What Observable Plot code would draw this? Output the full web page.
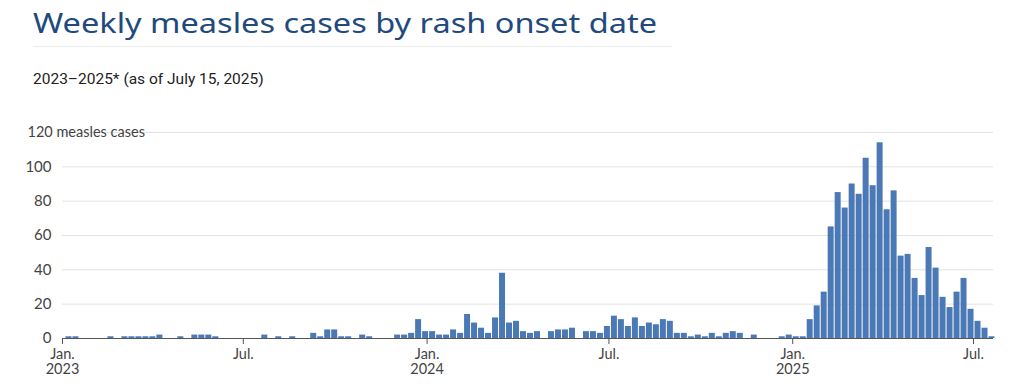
<!DOCTYPE html>
<html><head><meta charset="utf-8">
<script src="https://cdn.jsdelivr.net/npm/d3@7"></script>
<script src="https://cdn.jsdelivr.net/npm/@observablehq/plot@0.6"></script>
<style>
html,body{margin:0;padding:0;background:#fff;}
#wrap{position:relative;width:1024px;height:389px;overflow:hidden;}
#title{position:absolute;left:33px;top:9px;font-family:"Noto Sans",sans-serif;font-size:27px;line-height:27px;color:#22497d;white-space:nowrap;transform-origin:0 0;}
#rule{position:absolute;left:33px;top:46px;width:639px;height:1px;background:#ececec;}
#subtitle{position:absolute;left:33px;top:72px;font-family:Roboto,sans-serif;font-size:15.5px;line-height:15px;color:#222;white-space:nowrap;}
#chart{position:absolute;left:0;top:100px;}
</style></head><body>
<div id="wrap">
  <div id="title">Weekly measles cases by rash onset date</div>
  <div id="rule"></div>
  <div id="subtitle">2023–2025* (as of July 15, 2025)</div>
  <div id="chart"></div>
</div>
<script>
// Weekly measles cases (weeks starting 2023-01-04, 7-day steps)
const firstWeekStart = "2023-01-04";
const cases2023 = [1,1,0,0,0,0,1,0,1,1, 1,1,1,2,0,0,1,0,2,2, 2,1,0,0,0,0,0,0,2,0, 1,0,1,0,0,3,1,5,5,1, 1,0,2,1,0,0,0,2,2,3, 11,4];
const cases2024 = [4,2,2,5,3,14,9,6,3,12, 38,9,10,4,3,4,0,4,5,5, 6,0,4,4,3,7,13,11,7,12, 7,9,8,11,10,3,3,1,2,1, 3,1,3,4,3,0,2,0,0,0, 1,2];
const cases2025 = [1,1,11,19,27,65,85,76,90,84,105,89,114,75,86,48,49,35,25,53,41,24,18,27,35,17,10,6,1];
const xTickDates = ["2023-01-01","2023-07-01","2024-01-01","2024-07-01","2025-01-01","2025-07-01"];
const yearTickDates = ["2023-01-01","2024-01-01","2025-01-01"];
const yTicks = [0,20,40,60,80,100];
const yGrid = [20,40,60,80,100,120];
const yTopLabel = 120;
const yUnit = "measles cases";

const allCases = [...cases2023, ...cases2024, ...cases2025];
const start = new Date(firstWeekStart + "T00:00:00Z");
const weeks = allCases.map((c, i) => ({
  start: d3.utcDay.offset(start, 7 * i),
  end: d3.utcDay.offset(start, 7 * i + 7),
  cases: c
})).filter(d => d.cases > 0);
const toDate = s => new Date(s + "T00:00:00Z");
const xTicks = xTickDates.map(toDate);
const yearTicks = yearTickDates.map(toDate);

const chart = Plot.plot({
  width: 1024, height: 289,
  marginLeft: 62, marginRight: 31, marginTop: 32, marginBottom: 51,
  style: {fontFamily: "Lato, sans-serif", fontSize: "14.5px", color: "#444", background: "transparent"},
  x: {type: "utc", domain: [toDate("2023-01-01"), toDate("2025-07-21")], label: null},
  y: {domain: [0, 120], label: null},
  marks: [
    Plot.gridY(yGrid, {stroke: "#e2e2e2", strokeOpacity: 1}),
    Plot.rectY(weeks, {x1: "start", x2: "end", y: "cases", fill: "#4a79b5", insetLeft: 0.5, insetRight: 0.5}),
    Plot.ruleY([0], {stroke: "#555"}),
    Plot.axisY(yTicks, {tickSize: 0, tickPadding: 11, label: null, fontSize: 15}),
    Plot.axisY([yTopLabel], {tickSize: 0, tickPadding: 11, textAnchor: "start", dx: -24, label: null, fontSize: 14.5, tickFormat: d => `${d} ${yUnit}`}),
    Plot.axisX(xTicks, {tickSize: 6, tickPadding: 4, stroke: "#555", label: null,
      tickFormat: d => d.getUTCMonth() === 0 ? "Jan." : "Jul."}),
    Plot.axisX(yearTicks, {tickSize: 0, tickPadding: 10, dy: 15, label: null,
      tickFormat: d => String(d.getUTCFullYear())})
  ]
});
document.getElementById("chart").appendChild(chart);

// stretch title horizontally to the reference width
const t = document.getElementById("title");
const w = t.getBoundingClientRect().width;
const target = 624;
t.style.transform = `scaleX(${target / w})`;
</script>
</body></html>
